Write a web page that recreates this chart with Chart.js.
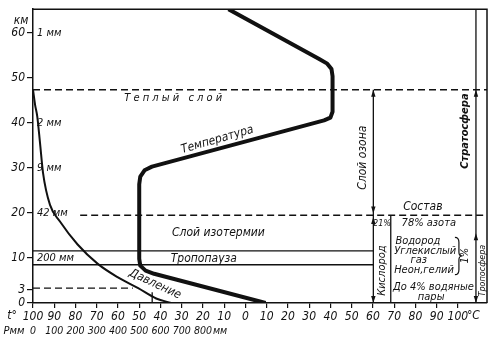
<!DOCTYPE html>
<html>
<head>
<meta charset="utf-8">
<script src="https://cdn.jsdelivr.net/npm/chart.js@4.4.1/dist/chart.umd.min.js"></script>
<style>
  html, body { margin: 0; padding: 0; background: #fff; }
  #wrap { width: 500px; height: 342px; position: relative; }
</style>
</head>
<body>
<div id="wrap"><canvas id="atm"></canvas></div>
<script>
'use strict';

/* Строение атмосферы: температура и давление по высоте */

// температура, °C  /  высота, км
const tempC  = [-8, 34.5, 38.5, 40.5, 41, 41, 40, 37, -44, -47.5, -49.5, -50, -50, -49.5, -47, -43, 9.5];
const tempKm = [65.3, 54.3, 53.2, 52, 50.4, 42.5, 41.2, 40.6, 30.3, 29.5, 28.1, 26.4, 9.8, 8.3, 7.2, 6.5, 0];

// давление, мм рт. ст.  /  высота, км
const pressMm = [0, 10, 20, 33, 47, 80, 127, 210, 305, 400, 495, 580, 650];
const pressKm = [47.4, 44, 41.5, 35.6, 29, 21.8, 18.1, 13, 8.7, 5.7, 3.3, 1, 0];

// подписи осей
const altTicks = [0, 3, 10, 20, 30, 40, 50, 60];
const tTicks   = [-100, -90, -80, -70, -60, -50, -40, -30, -20, -10, 0, 10, 20, 30, 40, 50, 60, 70, 80, 90, 100];
const pTicks   = [0, 100, 200, 300, 400, 500, 600, 700, 800];

// давление на высотах (подписи у оси)
const pressNoteText = ['1 мм', '2 мм', '9 мм', '42 мм', '200 мм'];
const pressNoteKm   = [60, 40, 30, 20, 10];

// границы слоёв
const dashedKm   = [47.4, 19.5, 3.3];
const dashedFrom = [-100, -77.8, -100];
const dashedTo   = [113.7, 113.7, -53];
const tropoKm    = [11.6, 8.5];
const tropoTo    = 60.2;
const vLineC     = [60.2, 68.4, 108.5, -43.9];
const vLineTo    = [47.4, 19.5, 65.3, 2.4];

const T_MIN = -100, T_MAX = 113.7, KM_MAX = 65.3;
const P_MAX = (T_MAX - T_MIN) * 10;   // шкала давления совпадает со шкалой t

const FONT = "'Liberation Sans Narrow','DejaVu Sans Condensed','Liberation Sans',sans-serif";
const INK  = '#111';

const xy  = (xs, ys) => xs.map((x, i) => ({ x, y: ys[i] }));
const seg = (x1, y1, x2, y2) => [{ x: x1, y: y1 }, { x: x2, y: y2 }];
const lineDs = (data, extra) => Object.assign({
  data, xAxisID: 'x', showLine: true, pointRadius: 0,
  borderColor: INK, borderWidth: 1.3, fill: false,
}, extra || {});

const datasets = [
  lineDs(xy(tempC, tempKm), { borderWidth: 4, borderJoinStyle: 'round', borderCapStyle: 'butt' }),
  lineDs(xy(pressMm, pressKm), { xAxisID: 'xP', borderWidth: 2, cubicInterpolationMode: 'monotone' }),
];
dashedKm.forEach((h, i) =>
  datasets.push(lineDs(seg(dashedFrom[i], h, dashedTo[i], h), { borderDash: [7, 4] })));
tropoKm.forEach(h => datasets.push(lineDs(seg(T_MIN, h, tropoTo, h))));
vLineC.forEach((c, i) => datasets.push(lineDs(seg(c, 0, c, vLineTo[i]))));

// подписи на поле графика
const notes = [
  { text: 'Т е п л ы й   с л о й', t: -34, h: 45.6, size: 11 },
  { text: 'Температура', t: -13.2, h: 36.3, rot: -16, size: 12 },
  { text: 'Слой озона', t: 55.2, h: 32.3, rot: -90, size: 12 },
  { text: 'Стратосфера', t: 103.3, h: 38.2, rot: -90, size: 11, bold: true },
  { text: 'Состав', t: 83.5, h: 21.4, size: 12 },
  { text: '21%', t: 64.3, h: 17.7, size: 9 },
  { text: '78% азота', t: 86.3, h: 17.7, size: 11 },
  { text: 'Водород', t: 70.6, h: 13.7, size: 11, align: 'left' },
  { text: 'Углекислый', t: 70, h: 11.6, size: 11, align: 'left' },
  { text: 'газ', t: 81.6, h: 9.6, size: 11 },
  { text: 'Неон,гелий', t: 70, h: 7.4, size: 11, align: 'left' },
  { text: '1%', t: 103.4, h: 10.5, rot: -90, size: 11 },
  { text: 'До 4% водяные', t: 88.5, h: 3.5, size: 11 },
  { text: 'пары', t: 87.4, h: 1.4, size: 11 },
  { text: 'Кислород', t: 64.3, h: 7.2, rot: -90, size: 11 },
  { text: 'Тропосфера', t: 111.6, h: 7.2, rot: -90, size: 9 },
  { text: 'Слой изотермии', t: -12.7, h: 15.5, size: 12 },
  { text: 'Тропопауза', t: -19.6, h: 9.9, size: 12 },
  { text: 'Давление', t: -42.5, h: 4.2, rot: 25, size: 12 },
];

// стрелки на вертикальных линиях: dir 1 — вверх, -1 — вниз
const arrows = [
  { t: 60.2, h: 47.4, dir: 1 }, { t: 60.2, h: 19.9, dir: -1 },
  { t: 60.2, h: 19.1, dir: 1 }, { t: 60.2, h: 0, dir: -1 },
  { t: 108.5, h: 47.4, dir: 1 }, { t: 108.5, h: 15.5, dir: 1 },
  { t: 108.5, h: 0, dir: -1 },
];

function font(size, bold) {
  return 'italic ' + (bold ? 'bold ' : '') + size + 'px ' + FONT;
}

const annotate = {
  id: 'annotate',
  afterDatasetsDraw(chart) {
    const { ctx, chartArea: a } = chart;
    const sx = chart.scales.x, sy = chart.scales.y, sp = chart.scales.xP;
    ctx.save();
    ctx.fillStyle = INK;
    ctx.strokeStyle = INK;

    // рамка сверху и справа
    ctx.lineWidth = 1.5;
    ctx.beginPath();
    ctx.moveTo(a.left, a.top); ctx.lineTo(a.right, a.top); ctx.lineTo(a.right, a.bottom);
    ctx.stroke();

    // подписи давления у оси
    ctx.textBaseline = 'middle';
    ctx.textAlign = 'left';
    ctx.font = font(11);
    pressNoteText.forEach((s, i) => {
      ctx.fillText(s, a.left + 4, sy.getPixelForValue(pressNoteKm[i]));
    });

    notes.forEach(n => {
      ctx.save();
      ctx.translate(sx.getPixelForValue(n.t), sy.getPixelForValue(n.h));
      if (n.rot) ctx.rotate(n.rot * Math.PI / 180);
      ctx.font = font(n.size, n.bold);
      ctx.textAlign = n.align || 'center';
      ctx.fillText(n.text, 0, 0);
      ctx.restore();
    });

    arrows.forEach(r => {
      const x = sx.getPixelForValue(r.t), y = sy.getPixelForValue(r.h);
      ctx.beginPath();
      ctx.moveTo(x, y);
      ctx.lineTo(x - 2.2, y + r.dir * 7);
      ctx.lineTo(x + 2.2, y + r.dir * 7);
      ctx.closePath();
      ctx.fill();
    });

    // фигурная скобка у «1%»
    const bx = sx.getPixelForValue(98.6);
    const bt = sy.getPixelForValue(14.6), bb = sy.getPixelForValue(6.3);
    const bm = (bt + bb) / 2;
    ctx.lineWidth = 1.2;
    ctx.beginPath();
    ctx.moveTo(bx, bt);
    ctx.quadraticCurveTo(bx + 4, bt, bx + 4, bt + 5);
    ctx.lineTo(bx + 4, bm - 4);
    ctx.quadraticCurveTo(bx + 4, bm, bx + 7, bm);
    ctx.quadraticCurveTo(bx + 4, bm, bx + 4, bm + 4);
    ctx.lineTo(bx + 4, bb - 5);
    ctx.quadraticCurveTo(bx + 4, bb, bx, bb);
    ctx.stroke();

    // единицы у осей
    ctx.font = font(12);
    ctx.textAlign = 'center';
    ctx.fillText('км', a.left - 12, sy.getPixelForValue(60) - 12);
    const tRow = sx.top + 13, pRow = sp.top + 8;
    ctx.fillText('t°', 12, tRow);
    ctx.font = font(11);
    ctx.fillText('Рмм', 14, pRow);
    ctx.textAlign = 'left';
    ctx.font = font(12);
    ctx.fillText('°C', sx.getPixelForValue(100) + 9, tRow);
    ctx.font = font(10.5);
    ctx.fillText('мм', sp.getPixelForValue(800) + 10, pRow);
    ctx.restore();
  },
};

new Chart(document.getElementById('atm').getContext('2d'), {
  type: 'scatter',
  data: { datasets },
  options: {
    responsive: true, maintainAspectRatio: false,
    animation: false,
    layout: { padding: { top: 4, right: 13, bottom: 0, left: 0 } },
    plugins: { legend: { display: false }, tooltip: { enabled: false } },
    scales: {
      x: {
        type: 'linear', position: 'bottom', min: T_MIN, max: T_MAX,
        afterBuildTicks: s => { s.ticks = tTicks.map(v => ({ value: v })); },
        afterFit: s => { s.height = 20; },
        grid: { drawOnChartArea: false, tickLength: 5, color: INK, lineWidth: 1.2 },
        border: { color: INK, width: 1.5 },
        ticks: {
          autoSkip: false, maxRotation: 0, padding: 2, color: INK,
          font: { family: FONT, size: 12, style: 'italic' },
          callback: v => String(Math.abs(v)),
        },
      },
      xP: {
        type: 'linear', position: 'bottom', min: 0, max: P_MAX,
        afterBuildTicks: s => { s.ticks = pTicks.map(v => ({ value: v })); },
        afterFit: s => { s.height = 19; },
        grid: { display: false, drawTicks: false },
        border: { display: false },
        ticks: {
          autoSkip: false, maxRotation: 0, padding: 2, color: INK,
          font: { family: FONT, size: 10.5, style: 'italic' },
          callback: v => String(v),
        },
      },
      y: {
        type: 'linear', min: 0, max: KM_MAX,
        afterBuildTicks: s => { s.ticks = altTicks.map(v => ({ value: v })); },
        afterFit: s => { s.width = 33; },
        grid: { drawOnChartArea: false, tickLength: 6, color: INK, lineWidth: 1.2 },
        border: { color: INK, width: 1.5 },
        ticks: {
          padding: 2, color: INK,
          font: { family: FONT, size: 12, style: 'italic' },
          callback: v => String(v),
        },
      },
    },
  },
  plugins: [annotate],
});
</script>
</body>
</html>
